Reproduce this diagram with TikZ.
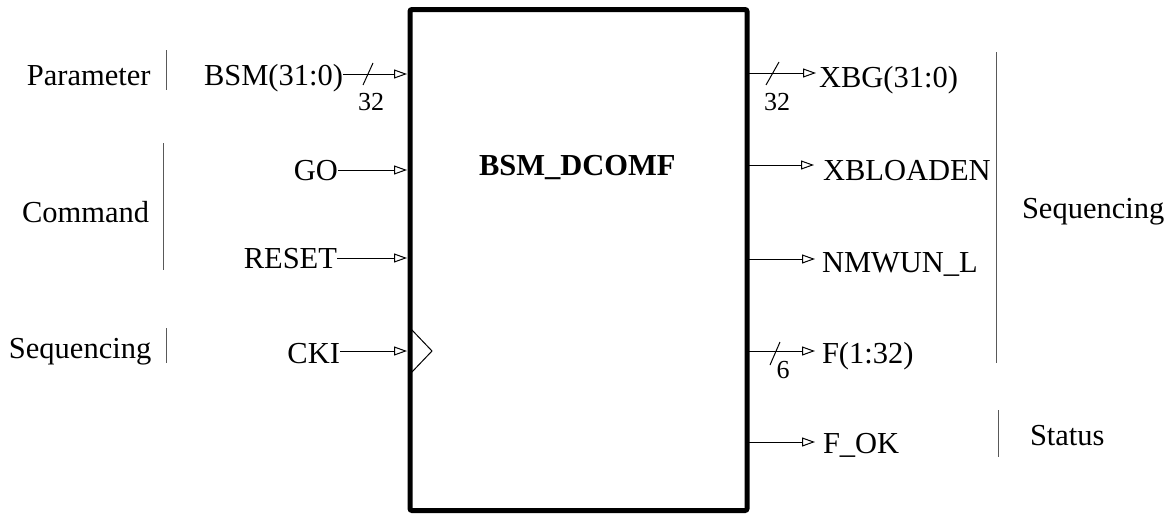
\documentclass[tikz,border=0pt]{standalone}
\usepackage{fontspec}
\setmainfont{Liberation Serif}
\usetikzlibrary{arrows.meta}
\begin{document}
\begin{tikzpicture}[x=1pt,y=-1pt,
  lbl/.style={inner sep=0pt, outer sep=0pt, font=\fontsize{30.5}{36}\selectfont},
  wid/.style={inner sep=0pt, outer sep=0pt, font=\fontsize{26}{30}\selectfont},
  sig/.style={line width=1pt, -{Triangle[open,length=13pt,width=9pt,line width=1pt]}},
  bus/.style={line width=1pt},
  grp/.style={line width=1pt, draw=black!65}]
\useasboundingbox (0,0) rectangle (1167,514);
% main block
\node[draw, line width=5pt, rounded corners=2pt, minimum width=337pt, minimum height=501pt, inner sep=0pt] (box) at (578.5,260) {};
\node[lbl, font=\fontsize{30.5}{36}\selectfont\bfseries, anchor=base west] (title) at (479,175) {BSM\_DCOMF};
% left group labels
\node[lbl, anchor=base west] (gpar) at (27,85) {Parameter};
\node[lbl, anchor=base west] (gcmd) at (22,222) {Command};
\node[lbl, anchor=base west] (gseqL) at (9,358) {Sequencing};
\coordinate (b1t) at (166,50); \coordinate (b1b) at (166,90);
\coordinate (b2t) at (163,143); \coordinate (b2b) at (163,270);
\coordinate (b3t) at (166,328); \coordinate (b3b) at (166,363);
\draw[grp] (b1t) -- (b1b);
\draw[grp] (b2t) -- (b2b);
\draw[grp] (b3t) -- (b3b);
% input signals
\node[lbl, anchor=base east] (bsm) at (343,85) {BSM(31:0)};
\node[lbl, anchor=base east] (go) at (338,180) {GO};
\node[lbl, anchor=base east] (rst) at (337,268) {RESET};
\node[lbl, anchor=base east] (cki) at (340,363) {CKI};
\coordinate (ibsm) at (407,74);
\coordinate (ibsms) at (343,74);
\draw[sig] (ibsms) -- (ibsm);
\coordinate (igo) at (407,170); \coordinate (igos) at (338,170);
\draw[sig] (igos) -- (igo);
\coordinate (irst) at (407,258); \coordinate (irsts) at (337,258);
\draw[sig] (irsts) -- (irst);
\coordinate (icki) at (407,351); \coordinate (ickis) at (340,351);
\draw[sig] (ickis) -- (icki);
% bus slash and width, input
\coordinate (s1a) at (363,85); \coordinate (s1b) at (373,63);
\draw[bus] (s1a) -- (s1b);
\node[wid, anchor=base] (w1) at (371,110) {32};
% clock triangle
\coordinate (ck1) at (411,329); \coordinate (ck2) at (432,351); \coordinate (ck3) at (411,373);
\draw[line width=1pt] (ck1) -- (ck2) -- (ck3);
% output signals
\coordinate (oxbgs) at (749,73); \coordinate (oxbg) at (816,73);
\draw[sig] (oxbgs) -- (oxbg);
\coordinate (oxbls) at (749,165); \coordinate (oxbl) at (814,165);
\draw[sig] (oxbls) -- (oxbl);
\coordinate (onms) at (749,259); \coordinate (onm) at (815,259);
\draw[sig] (onms) -- (onm);
\coordinate (ofs) at (749,351); \coordinate (of) at (815,351);
\draw[sig] (ofs) -- (of);
\coordinate (ooks) at (749,442); \coordinate (ook) at (815,442);
\draw[sig] (ooks) -- (ook);
\coordinate (s2a) at (766,85); \coordinate (s2b) at (779,62);
\draw[bus] (s2a) -- (s2b);
\node[wid, anchor=base] (w2) at (777,110) {32};
\coordinate (s3a) at (770,365); \coordinate (s3b) at (780,342);
\draw[bus] (s3a) -- (s3b);
\node[wid, anchor=base] (w3) at (783,378) {6};
\node[lbl, anchor=base west] (xbg) at (819,87) {XBG(31:0)};
\node[lbl, anchor=base west] (xbl) at (823,180) {XBLOADEN};
\node[lbl, anchor=base west] (nmw) at (822,272) {NMWUN\_L};
\node[lbl, anchor=base west] (fo) at (822,363) {F(1:32)};
\node[lbl, anchor=base west] (fok) at (823,453) {F\_OK};
% right group labels
\coordinate (b4t) at (996,52); \coordinate (b4b) at (996,363);
\coordinate (b5t) at (998,410); \coordinate (b5b) at (998,457);
\draw[grp] (b4t) -- (b4b);
\draw[grp] (b5t) -- (b5b);
\node[lbl, anchor=base west] (gseqR) at (1022,218) {Sequencing};
\node[lbl, anchor=base west] (gst) at (1030,445) {Status};
\end{tikzpicture}
\end{document}
